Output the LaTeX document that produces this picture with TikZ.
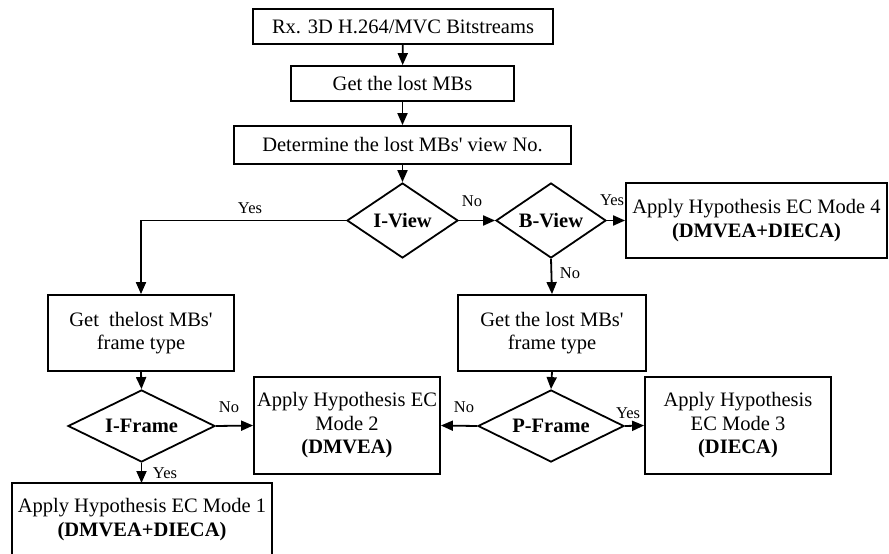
\documentclass[tikz,border=0pt]{standalone}
\usepackage{fontspec}
\setmainfont{Liberation Serif}
\usetikzlibrary{shapes.geometric,arrows.meta}
\newcommand{\sq}{\textquotesingle}
\begin{document}
\begin{tikzpicture}[x=1pt,y=-1pt,
  box/.style={draw,line width=1.8pt,rectangle,inner sep=0pt,align=center,font=\fontsize{20.5}{23.5}\selectfont},
  dia/.style={draw,line width=1.8pt,diamond,aspect=1.5,inner sep=0pt,font=\fontsize{20.5}{23.5}\selectfont\bfseries},
  txt/.style={inner sep=0pt,align=center,font=\fontsize{20.5}{23.5}\selectfont},
  lbl/.style={inner sep=0pt,font=\fontsize{16.5}{18}\selectfont},
  arr/.style={line width=1.8pt,-{Triangle[length=12pt,width=10pt]}},
  edge/.style={line width=1.8pt}]
\useasboundingbox (0,0) rectangle (889,554);
\node[box,minimum width=300pt,minimum height=35pt] (b1) at (403,26.5) {Rx. 3D H.264/MVC Bitstreams};
\node[box,minimum width=223pt,minimum height=35pt] (b2) at (402.5,83.5) {Get the lost MBs};
\node[box,minimum width=337pt,minimum height=38pt] (b3) at (402.5,145) {Determine the lost MBs\sq\ view No.};
\node[dia,minimum width=111pt,minimum height=75pt] (iview) at (402.5,220.5) {I-View};
\node[dia,minimum width=110pt,minimum height=75pt] (bview) at (551,220.5) {B-View};
\node[box,minimum width=261pt,minimum height=75pt] (m4) at (756.5,220.5) {Apply Hypothesis EC Mode 4\\\textbf{(DMVEA+DIECA)}};
\node[box,minimum width=186pt,minimum height=76pt] (lbox) at (141,333) {Get\ \ thelost MBs\sq\\frame type};
\node[box,minimum width=188pt,minimum height=76pt] (rbox) at (552,333) {Get the lost MBs\sq\\frame type};
\node[dia,minimum width=147pt,minimum height=72pt] (iframe) at (141.5,426) {I-Frame};
\node[dia,minimum width=146pt,minimum height=72pt] (pframe) at (551,426) {P-Frame};
\node[box,minimum width=186pt,minimum height=97pt] (m2) at (347,425.5) {Apply Hypothesis EC\\Mode 2\\\textbf{(DMVEA)}};
\node[box,minimum width=186pt,minimum height=97pt] (m3) at (738,425.5) {Apply Hypothesis\\EC Mode 3\\\textbf{(DIECA)}};
\node[txt] (m1) at (142,519.5) {Apply Hypothesis EC Mode 1\\\textbf{(DMVEA+DIECA)}};
\coordinate (m1top) at (141.5,483);
\draw[edge] (12,570) -- (12,483) -- (272,483) -- (272,570);
% connectors
\draw[arr] (b1) -- (b2);
\draw[arr] (b2) -- (b3);
\draw[arr] (b3) -- (iview);
\draw[arr] (iview.west) -| (lbox.north);
\draw[arr] (iview.east) -- (bview.west);
\draw[arr] (bview.east) -- (m4.west);
\draw[arr] (bview.south) -- (rbox.north);
\draw[arr] (lbox.south) -- (iframe.north);
\draw[arr] (rbox.south) -- (pframe.north);
\draw[arr] (iframe.east) -- (m2.west);
\draw[arr] (pframe.west) -- (m2.east);
\draw[arr] (pframe.east) -- (m3.west);
\draw[arr] (iframe.south) -- (m1top);
% labels
\node[lbl] (l1) at (250,208) {Yes};
\node[lbl] (l2) at (472,201) {No};
\node[lbl] (l3) at (612,200) {Yes};
\node[lbl] (l4) at (570,273) {No};
\node[lbl] (l5) at (229,407) {No};
\node[lbl] (l6) at (165,473) {Yes};
\node[lbl] (l7) at (464,407) {No};
\node[lbl] (l8) at (628,413) {Yes};
\end{tikzpicture}
\end{document}
